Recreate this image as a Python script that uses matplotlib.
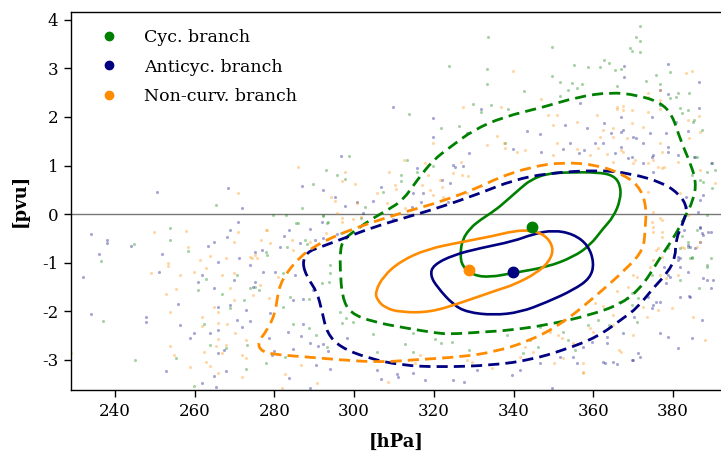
import numpy as np
import matplotlib
matplotlib.use("Agg")
import matplotlib.pyplot as plt
from matplotlib.path import Path
from matplotlib.patches import PathPatch

plt.rcParams.update({
    'font.family': 'DejaVu Serif',
    'font.size': 12,
    'xtick.labelsize': 12,
    'ytick.labelsize': 12,
    'axes.linewidth': 1.0,
})

# colours of the three branches
c_cyc = 'green'
c_anti = 'navy'
c_non = 'darkorange'

labels = ['Cyc. branch', 'Anticyc. branch', 'Non-curv. branch']

# ---- scatter points (hPa, pvu) ----
cyc_x = [265.4, 287.0, 289.7, 293.0, 298.8, 295.8, 297.8, 279.7, 282.9, 286.0, 292.2, 293.2,
         236.5, 237.0, 245.1, 244.8, 253.9, 253.9, 255.3, 258.4, 259.9, 260.9, 262.4, 262.9,
         263.9, 266.9, 267.9, 268.9, 270.7, 272.9, 273.2, 273.9, 276.2, 277.9, 277.9,
         313.3, 315.8, 319.8, 311.8, 311.8, 307.3, 302.8, 301.8, 293.5, 292.2, 296.8, 298.0,
         285.5, 287.7, 283.2, 288.2, 278.2, 275.2, 282.2, 294.0, 294.0, 293.7,
         292.0, 288.7, 284.0, 282.2, 284.7, 288.7, 290.5, 293.2, 282.7, 272.4, 296.5, 297.0,
         298.0, 299.8, 304.8, 305.8, 312.8, 314.8, 314.8, 320.3, 324.6, 328.9, 321.8,
         338.4, 344.2, 355.5, 363.8, 371.0, 386.6, 388.6, 389.6, 384.3, 378.6, 374.8,
         342.4, 346.2, 346.7, 352.5, 353.7, 358.7, 361.2, 366.3, 369.6, 369.6, 371.3,
         337.9, 384.8, 385.6, 389.4, 386.8, 386.1, 388.6, 383.6, 384.8, 381.8,
         333.6, 349.7, 323.9, 333.4, 333.4, 349.7, 351.7, 355.2, 358.7, 361.7, 362.7, 363.8,
         365.3, 354.7, 357.2, 353.7, 356.0, 342.7, 351.7, 313.8, 326.4, 329.9, 334.4, 331.9,
         338.7, 321.8, 375.8, 379.3, 381.1, 384.1, 381.8, 383.8, 385.3, 387.3, 390.6, 387.6,
         389.8, 371.8, 370.8, 371.8, 369.3, 369.8, 371.8, 366.8, 373.3, 376.6, 365.8, 380.8,
         379.1, 382.3, 385.1, 386.1, 388.6, 382.3, 383.6, 381.8, 384.8, 388.6]
cyc_y = [0.19, 0.12, 0.62, 0.91, 1.19, 0.80, 0.72, -0.02, -0.02, -0.19, -0.02, -0.19,
         -0.97, -2.20, -3.00, -0.62, -0.29, -0.53, -2.96, -0.76, -3.54, -1.56, -2.26, -1.34,
         -2.70, -1.65, -2.76, -1.93, -1.26, -3.19, -2.70, -1.52, -1.56, -0.78, -3.07,
         1.11, 0.86, 0.99, 0.80, 0.68, 0.45, 0.14, -0.08, -0.16, -0.04, -0.39, -0.49,
         -0.19, -0.53, -0.68, -0.62, -0.84, -1.50, -1.21, -1.21, -1.05, -1.40,
         -1.42, -1.75, -1.71, -1.91, -2.26, -2.35, -2.49, -2.74, -2.94, -1.77, -2.02, -2.24,
         -2.14, -2.22, -2.47, -2.84, -2.67, -2.45, -2.84, -2.57, -2.63, -2.80, -2.65,
         -2.49, -2.59, -2.80, -2.28, -2.22, -1.52, -1.09, -0.91, -0.91, -0.70, -1.26,
         -2.86, -2.74, -2.33, -2.43, -2.59, -2.28, -2.18, -1.81, -1.63, -1.87, -1.73,
         1.46, 0.80, 1.17, 1.05, 0.70, -0.33, -0.02, -0.68, -0.88, -1.36,
         3.64, 3.44, 3.05, 2.98, 2.67, 2.84, 2.72, 3.07, 3.02, 3.02, 3.17, 3.11,
         2.96, 2.70, 2.67, 2.55, 2.59, 2.53, 2.43, 2.06, 1.81, 2.26, 2.24, 2.10,
         2.16, 1.77, 2.86, 2.92, 2.49, 2.49, 2.18, 2.14, 1.93, 1.73, 0.91, 0.66,
         0.53, 3.87, 3.64, 3.56, 3.41, 3.35, 3.33, 2.98, 2.74, 2.67, 2.63, 2.41,
         2.39, 2.08, 1.89, 1.17, 0.86, -0.45, -0.58, -0.70, -0.91, -1.05]

anti_x = [250.6, 268.4, 271.9, 270.9, 287.0, 292.2, 296.8, 295.2, 297.8, 300.8, 292.0,
          234.0, 238.0, 238.0, 244.1, 236.0, 232.0, 234.0, 247.8, 247.8, 251.1, 251.8, 252.8,
          255.8, 256.4, 258.9, 259.9, 260.9, 261.9, 261.9, 263.4, 263.9, 264.9, 264.9, 264.9,
          265.4, 265.9, 265.9, 265.9, 265.9, 267.4, 267.9, 268.1, 268.9, 268.9, 269.9, 270.7,
          271.1, 271.9, 272.9, 273.9, 274.7, 275.2, 276.9, 277.2, 278.9, 278.7, 279.4,
          315.8, 328.9, 324.9, 327.4, 306.8, 304.8, 314.8, 322.1, 324.1, 316.8, 323.6, 314.6,
          309.8, 302.3, 289.0, 295.8, 283.7, 282.5, 290.2, 292.2, 281.4, 286.5, 275.2, 280.2,
          285.2, 289.7, 287.2, 284.7, 287.2, 283.5, 286.7, 289.0, 291.0, 292.2, 293.5, 284.7,
          279.9, 290.5, 294.0, 283.7, 289.0, 273.9, 298.3, 305.8, 306.8, 311.1, 314.8, 317.8,
          324.9, 327.6, 310.8, 330.9, 339.7, 341.7, 349.7, 351.7, 356.0, 359.7, 362.5, 365.0,
          367.5, 369.8, 371.3, 376.8, 381.3, 384.8, 387.3, 389.6, 388.6, 388.8, 386.8, 383.8,
          381.8, 384.3, 381.8, 378.6, 377.6, 375.0, 346.7, 355.0, 357.5, 363.3, 363.3, 362.8,
          365.8, 368.5, 370.3, 370.0, 371.8, 373.6, 374.8, 375.6, 376.8, 378.8, 384.1, 379.3,
          378.1, 339.9, 346.9, 352.5, 354.2, 356.5, 357.7, 360.5, 365.3, 366.8, 368.8, 372.5,
          374.8, 378.6, 381.1, 383.1, 386.3, 387.3, 382.6, 384.3, 386.8, 389.4, 381.1, 381.8,
          383.8, 390.1, 387.6, 367.8, 367.8, 356.7, 309.8, 331.9, 319.8, 319.8, 328.4, 343.4,
          346.7, 352.9, 362.7, 366.8, 364.3, 367.5, 370.0, 374.3, 374.8, 376.6, 378.6, 386.6,
          386.6, 383.8, 385.3, 389.8, 378.8, 378.3, 375.0, 358.5, 325.4, 317.3, 378.8, 376.8,
          380.6, 366.8, 370.8, 362.5, 369.8, 372.5, 375.0, 386.8, 387.6, 383.1, 386.8, 387.6,
          385.6, 381.3]
anti_y = [0.46, 0.54, 0.12, -0.16, 0.58, 0.49, 1.19, 0.35, 0.17, 0.25, -0.16,
          -0.41, -0.53, -0.60, -0.66, -0.82, -1.30, -2.06, -2.12, -2.22, -1.19, -0.82, -3.23,
          -1.85, -2.28, -2.55, -2.45, -1.40, -3.48, -1.26, -0.66, -2.45, -1.52, -0.58, -3.33,
          -3.56, -1.91, -2.39, -2.86, -0.99, -2.80, -3.23, -0.47, -1.87, -0.33, -1.36, -2.18,
          -0.91, -2.32, -1.98, -1.05, -1.50, -0.78, -0.74, -1.19, -2.04, -2.55, -2.90,
          0.95, 1.26, 1.01, 0.99, 0.56, 0.27, 0.43, 0.70, 0.64, 0.25, 0.25, 0.14,
          -0.10, 0.02, -0.31, -0.41, -0.33, -0.45, -0.53, -0.49, -0.68, -0.60, -1.40, -1.19,
          -1.26, -1.56, -1.75, -1.77, -2.26, -2.43, -2.51, -2.65, -2.72, -2.67, -2.82, -2.78,
          -2.82, -3.11, -3.19, -3.37, -3.58, -2.20, -2.55, -3.21, -3.40, -3.35, -3.27, -3.42,
          -3.42, -3.46, -3.29, -3.20, -3.31, -3.21, -3.58, -2.94, -3.07, -2.63, -3.05, -3.05,
          -2.45, -3.00, -2.86, -2.45, -2.76, -2.55, -2.18, -1.52, -1.36, -0.37, -0.29, -0.64,
          -0.91, -1.71, -1.71, -1.26, -1.09, -1.87, -3.07, -2.94, -2.74, -2.53, -2.65, -3.07,
          -3.09, -1.73, -2.12, -3.00, -2.94, -1.71, -1.93, -1.81, -1.81, -2.53, -1.69, -1.30,
          -1.42, 1.34, 1.28, 1.34, 1.46, 1.26, 1.32, 1.46, 1.26, 1.38, 1.15, 1.46,
          1.17, 1.28, 1.21, 0.35, 0.04, -0.39, -0.33, -0.68, -0.58, -0.37, -0.88, -1.09,
          -1.19, -1.36, -1.32, 3.05, 2.82, 2.28, 2.20, 2.16, 1.97, 1.58, 1.67, 1.71,
          1.65, 1.83, 1.87, 2.00, 1.67, 1.73, 1.58, 1.67, 2.00, 2.55, 3.09, 2.72,
          2.18, 1.71, 1.17, 1.05, 1.38, 1.67, 0.86, 1.77, 0.97, 0.43, 2.47, 2.24,
          1.89, 1.69, 1.56, 1.46, 1.17, 1.05, 1.21, 0.29, 0.39, 0.14, -0.27, -0.43,
          -0.70, -0.95]

non_x = [270.9, 286.0, 297.8, 297.0, 294.2, 295.2, 300.3, 295.8, 297.0,
         229.0, 249.1, 249.8, 253.3, 253.3, 252.8, 253.9, 253.9, 254.8, 255.3, 256.4, 257.9,
         258.4, 258.9, 259.9, 261.4, 261.9, 261.9, 262.4, 262.9, 262.9, 263.9, 263.9, 264.9,
         265.4, 265.9, 265.9, 265.9, 265.9, 266.9, 266.9, 267.9, 267.9, 268.1, 268.9, 269.9,
         269.9, 269.9, 270.2, 270.9, 271.9, 271.9, 272.9, 272.9, 273.9, 274.7, 275.7, 276.7,
         278.2, 278.7, 280.9,
         308.8, 312.6, 317.8, 319.8, 327.1, 328.6, 318.6, 310.3, 305.8, 308.3, 317.1, 319.1,
         322.1, 324.9, 319.8, 322.3, 325.9, 328.4, 312.8, 300.8, 301.8, 299.8, 297.0, 293.0,
         277.9, 284.5, 289.0, 293.2, 284.7, 278.9, 275.2, 274.4, 276.4,
         286.7, 282.7, 290.7, 281.9, 315.3, 328.4, 308.5, 316.6, 329.6, 341.7, 344.9, 350.0,
         352.5, 355.0, 357.5, 357.5, 360.0, 366.3, 370.0, 372.5, 388.1, 385.1, 386.8, 382.6,
         375.0, 377.3, 379.8, 376.8, 373.5, 334.6, 342.9, 349.2, 351.2, 352.2, 357.5, 359.2,
         360.5, 362.5, 364.8, 365.0, 365.8, 366.8, 368.8, 371.0, 376.1, 381.1,
         333.4, 337.9, 340.9, 342.9, 349.9, 350.9, 356.0, 359.2, 361.2, 363.5, 367.5, 370.5,
         375.0, 376.8, 377.3, 381.8, 373.6, 375.0, 377.3, 374.8, 377.3, 375.6, 377.3, 375.0,
         374.3, 370.0, 386.1, 378.1,
         339.9, 346.9, 327.4, 336.9, 344.4, 335.9, 337.7, 349.9, 348.7, 350.9, 356.0, 361.0,
         366.0, 367.5, 364.8, 362.5, 361.7, 369.8, 368.5, 372.5, 373.8, 376.6, 383.3, 384.8,
         386.6, 383.8, 384.1, 377.3, 377.6, 373.6, 365.0, 326.9, 321.6, 310.6,
         376.6, 365.8, 367.3, 376.6, 373.8, 373.8, 369.8, 386.8,
         365.0, 366.8, 370.0, 376.3, 381.1, 386.8, 390.6, 376.8, 375.0, 376.3, 383.8, 382.3]
non_y = [0.43, 0.97, 0.86, 0.68, 0.35, 0.27, 0.62, 0.02, -0.08,
         -2.86, -1.21, -0.37, -1.01, -1.07, -1.65, -2.02, -2.72, -2.90, -1.54, -1.26, -0.35,
         -0.68, -3.15, -1.19, -0.95, -2.12, -2.30, -2.84, -1.11, -3.05, -3.13, -0.86, -1.91,
         -2.72, -2.02, -2.24, -2.57, -3.27, -1.26, -2.86, -2.70, -0.91, -2.26, -1.52, -0.58,
         -1.21, -1.77, -2.45, -0.37, -2.90, -3.35, -2.96, -2.59, -0.88, -1.67, -0.91, -0.53,
         -0.33, -1.73, -1.30,
         0.86, 1.11, 1.05, 1.46, 0.80, 0.78, 0.80, 0.60, 0.43, 0.23, 0.60, 0.49,
         0.56, 0.84, 0.39, 0.35, 0.39, 0.43, 0.12, 0.23, -0.06, -0.10, -0.16, -0.39,
         -0.33, -0.53, -0.58, -0.51, -0.74, -0.60, -0.84, -0.91, -1.46,
         -3.11, -3.29, -3.48, -3.58, -3.07, -3.00, -3.46, -2.90, -3.05, -2.94, -2.84, -3.07,
         -2.96, -2.65, -3.25, -3.07, -2.43, -2.80, -2.49, -1.91, -2.59, -2.12, -0.58, -0.70,
         -0.37, -0.37, -1.93, -1.26, -2.12, -3.17, -2.74, -2.43, -2.49, -2.55, -3.27, -2.35,
         -1.83, -1.89, -2.08, -2.28, -1.58, -2.84, -1.50, -1.30, -1.98, -1.26,
         1.42, 1.36, 1.28, 1.32, 1.21, 1.46, 1.34, 1.21, 1.36, 1.23, 1.28, 1.11,
         1.11, 1.46, 0.95, 0.43, 0.45, 0.04, -0.12, -0.16, -0.47, -0.74, -0.88, -0.95,
         -1.09, -1.26, -0.68, -1.32,
         2.94, 2.37, 2.20, 2.20, 2.16, 1.60, 1.46, 1.83, 2.04, 2.04, 1.89, 2.04,
         2.20, 2.14, 1.77, 1.73, 1.58, 2.14, 1.56, 1.79, 2.41, 2.35, 2.90, 2.94,
         2.02, 1.93, 1.56, 1.28, 0.97, 1.05, 1.07, 1.07, 0.70, 0.51,
         2.55, 2.16, 2.22, 2.16, 2.49, 2.10, 1.87, 1.69,
         1.58, 1.32, 1.05, 0.97, 1.07, 0.91, 0.64, -0.08, -0.27, -0.70, -0.02, -0.68]

# ---- branch centres ----
cen_x = [344.7, 339.9, 328.9]
cen_y = [-0.27, -1.19, -1.15]

# ---- density contours (outer = dashed, inner = solid), vertices in (hPa, pvu) ----
cyc_out_x = [297.0, 296.5, 296.5, 297.3, 300.3, 304.8, 308.3, 312.3, 315.8, 319.8, 324.1, 329.9,
             337.4, 347.4, 356.0, 364.3, 371.0, 376.8, 379.8, 381.8, 384.3, 385.8, 385.1, 382.6,
             379.8, 376.3, 372.5, 367.5, 359.2, 348.4, 339.2, 331.6, 324.1, 320.8, 313.3, 304.8,
             299.0]
cyc_out_y = [-1.71, -1.15, -0.74, -0.53, -0.33, -0.08, 0.08, 0.29, 0.70, 1.11, 1.38, 1.73,
             2.00, 2.20, 2.41, 2.51, 2.45, 2.30, 2.04, 1.53, 1.05, 0.66, 0.29, -0.12,
             -0.53, -0.95, -1.46, -1.83, -2.08, -2.28, -2.39, -2.43, -2.47, -2.45, -2.35, -2.22,
             -2.04]
cyc_in_x = [326.6, 327.1, 329.1, 331.6, 335.4, 338.4, 341.7, 344.2, 348.4, 354.2, 361.0, 365.0,
            366.8, 366.8, 365.0, 362.5, 359.2, 355.0, 348.4, 339.9, 334.1, 329.9, 327.1]
cyc_in_y = [-0.84, -0.53, -0.29, -0.12, 0.08, 0.29, 0.53, 0.70, 0.84, 0.86, 0.86, 0.80,
            0.60, 0.29, -0.06, -0.29, -0.64, -0.88, -1.09, -1.21, -1.30, -1.26, -1.07]

anti_out_x = [287.0, 288.2, 291.5, 298.3, 304.8, 313.3, 321.6, 331.6, 339.9, 348.4, 361.0, 369.3,
              377.6, 381.8, 383.6, 382.6, 380.6, 380.6, 378.8, 375.0, 371.0, 367.5, 361.0, 352.5,
              344.2, 334.9, 321.6, 311.6, 303.3, 296.5, 293.2, 292.0, 290.7, 288.2]
anti_out_y = [-1.01, -0.78, -0.68, -0.47, -0.27, -0.06, 0.14, 0.43, 0.70, 0.84, 0.91, 0.84,
              0.64, 0.39, 0.12, -0.16, -0.53, -0.88, -1.19, -1.52, -1.93, -2.14, -2.53, -2.80,
              -3.00, -3.11, -3.15, -3.11, -2.96, -2.74, -2.45, -2.02, -1.60, -1.30]
anti_in_x = [319.1, 320.8, 324.9, 328.4, 334.9, 341.7, 348.4, 355.0, 359.2, 360.2, 358.7, 355.0,
             350.0, 344.9, 339.9, 331.6, 324.9, 319.8]
anti_in_y = [-1.26, -1.50, -1.87, -2.02, -2.08, -2.02, -1.81, -1.56, -1.32, -1.01, -0.64, -0.41,
             -0.33, -0.41, -0.56, -0.70, -0.84, -1.05]

non_out_x = [280.7, 281.4, 283.2, 286.5, 289.7, 294.7, 299.0, 304.8, 313.3, 321.6, 331.6, 335.9,
             344.2, 352.5, 361.0, 366.8, 371.3, 373.3, 373.0, 372.5, 368.5, 360.0, 351.7, 343.4,
             334.9, 326.6, 314.8, 306.5, 296.5, 288.2, 281.4, 276.9, 275.7, 278.2, 280.2]
non_out_y = [-1.73, -1.46, -1.19, -0.88, -0.68, -0.47, -0.33, -0.16, 0.06, 0.25, 0.56, 0.74,
             0.97, 1.07, 1.01, 0.84, 0.60, 0.19, -0.33, -0.74, -1.11, -1.73, -2.28, -2.63,
             -2.84, -2.94, -3.00, -3.05, -3.00, -2.94, -2.90, -2.84, -2.65, -2.39, -2.04]
non_in_x = [305.3, 305.8, 307.8, 311.6, 319.1, 326.6, 336.7, 339.9, 345.9, 349.2, 350.0, 347.9,
            344.2, 339.9, 334.9, 326.6, 318.3, 311.6, 307.3]
non_in_y = [-1.60, -1.77, -1.93, -2.02, -2.02, -1.83, -1.54, -1.46, -1.21, -0.95, -0.68, -0.43,
            -0.33, -0.35, -0.45, -0.58, -0.72, -0.97, -1.28]


def smooth_loop(xs, ys):
    # closed path through the vertices' midpoints, vertices used as bezier controls
    pts = np.column_stack([xs, ys])
    n = len(pts)
    mids = (pts + np.roll(pts, -1, axis=0)) / 2
    verts = [mids[-1]]
    codes = [Path.MOVETO]
    for i in range(n):
        verts += [pts[i], mids[i]]
        codes += [Path.CURVE3, Path.CURVE3]
    return Path(verts, codes)


fig = plt.figure(figsize=(7.21, 4.51), dpi=100)
ax = fig.add_axes([71 / 721, 61 / 451, 650 / 721, 378.5 / 451])

ax.axhline(0, color='#777777', lw=1.0, zorder=1)

series = [
    (cyc_x, cyc_y, c_cyc, cyc_out_x, cyc_out_y, cyc_in_x, cyc_in_y),
    (anti_x, anti_y, c_anti, anti_out_x, anti_out_y, anti_in_x, anti_in_y),
    (non_x, non_y, c_non, non_out_x, non_out_y, non_in_x, non_in_y),
]
for px, py, col, ox, oy, ix, iy in series:
    ax.scatter(px, py, s=5, color=col, alpha=0.35, linewidths=0, zorder=2)

for px, py, col, ox, oy, ix, iy in series:
    ax.add_patch(PathPatch(smooth_loop(ox, oy), fill=False, edgecolor=col, lw=2.0,
                           linestyle=(0, (4, 2.2)), zorder=3))
    ax.add_patch(PathPatch(smooth_loop(ix, iy), fill=False, edgecolor=col, lw=1.9,
                           zorder=3))

for cx, cy, col, lab in zip(cen_x, cen_y, [c_cyc, c_anti, c_non], labels):
    ax.plot(cx, cy, 'o', color=col, ms=7.5, zorder=4)
    ax.plot([], [], 'o', color=col, ms=6, label=lab, linestyle='none')

leg = ax.legend(loc='upper left', frameon=False, bbox_to_anchor=(0.008, 0.995),
                handletextpad=1.0, labelspacing=0.72, fontsize=12.5)

ax.set_xlim(229, 392)
ax.set_ylim(-3.62, 4.17)
ax.set_xticks([240, 260, 280, 300, 320, 340, 360, 380])
ax.set_yticks([-3, -2, -1, 0, 1, 2, 3, 4])
ax.set_yticklabels(['-3', '-2', '-1', '0', '1', '2', '3', '4'])
ax.tick_params(axis='both', length=5, width=1.0, pad=4)
ax.spines['right'].set_visible(False)

ax.set_xlabel('[hPa]', fontweight='bold', fontsize=13, labelpad=10)
ax.set_ylabel('[pvu]', fontweight='bold', fontsize=13, labelpad=10)

fig.savefig('out.png', dpi=100)
